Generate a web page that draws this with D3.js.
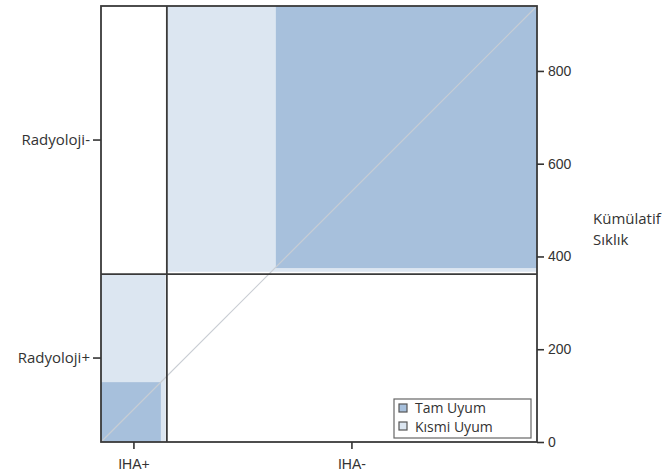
<!DOCTYPE html>
<html>
<head>
<meta charset="utf-8">
<script src="https://cdn.jsdelivr.net/npm/d3@7"></script>
<style>
  body { margin: 0; background: #fff; }
  svg { display: block; }
</style>
</head>
<body>
<div id="chart"></div>
<script>
// IHA vs Radyoloji agreement chart
const N = 940
const rowLabels = ["Radyoloji+", "Radyoloji-"]
const colLabels = ["IHA+", "IHA-"]
const rowTotals = [362, 578]
const colTotals = [142, 798]
// rectangles as [x0, x1, y0, y1] in cumulative frequency
const kismiUyum = [[0, 139, 0, 362], [142, 940, 367, 940]]
const tamUyum = [[0, 129, 0, 129], [377, 940, 375, 940]]
const yTicks = [0, 200, 400, 600, 800]
const legendItems = ["Tam Uyum", "Kısmi Uyum"]

const width = 663, height = 472
const margin = {left: 101, right: 537, top: 6, bottom: 442}
const labelFont = "'Open Sans', sans-serif"

const svg = d3.select("#chart").append("svg")
  .attr("width", width)
  .attr("height", height)

const x = d3.scaleLinear().domain([0, N]).range([margin.left, margin.right])
const y = d3.scaleLinear().domain([0, N]).range([margin.bottom, margin.top])

const color = d3.scaleOrdinal()
  .domain(legendItems)
  .range(["#a7c0dc", "#dce6f1"])

// partial agreement (light)
svg.selectAll("rect.kismi")
  .data(kismiUyum)
  .enter()
  .append("rect")
    .attr("class", "kismi")
    .attr("x", d => x(d[0]))
    .attr("width", d => x(d[1]) - x(d[0]))
    .attr("y", d => y(d[3]))
    .attr("height", d => y(d[2]) - y(d[3]))
    .style("fill", color("Kısmi Uyum"))

// full agreement (dark)
svg.selectAll("rect.tam")
  .data(tamUyum)
  .enter()
  .append("rect")
    .attr("class", "tam")
    .attr("x", d => x(d[0]))
    .attr("width", d => x(d[1]) - x(d[0]))
    .attr("y", d => y(d[3]))
    .attr("height", d => y(d[2]) - y(d[3]))
    .style("fill", color("Tam Uyum"))

// diagonal
svg.append("line")
  .attr("x1", x(0)).attr("y1", y(0))
  .attr("x2", x(N)).attr("y2", y(N))
  .style("stroke", "#c9cdd3")
  .style("stroke-width", 1.2)

// marginal boundaries
const colCum = d3.cumsum(colTotals)
const rowCum = d3.cumsum(rowTotals)
svg.append("line")
  .attr("x1", x(colCum[0])).attr("x2", x(colCum[0]))
  .attr("y1", y(0)).attr("y2", y(N))
  .style("stroke", "#3a3a3a").style("stroke-width", 1.8)
svg.append("line")
  .attr("x1", x(0)).attr("x2", x(N))
  .attr("y1", y(rowCum[0])).attr("y2", y(rowCum[0]))
  .style("stroke", "#3a3a3a").style("stroke-width", 1.8)

// frame
svg.append("rect")
  .attr("x", x(0)).attr("y", y(N))
  .attr("width", x(N) - x(0)).attr("height", y(0) - y(N))
  .style("fill", "none")
  .style("stroke", "#3a3a3a")
  .style("stroke-width", 1.8)

// right axis: cumulative frequency
const yAxis = svg.append("g")
  .attr("transform", "translate(" + margin.right + ",0)")
  .call(d3.axisRight(y).tickValues(yTicks).tickSize(7).tickPadding(4))
yAxis.select(".domain").remove()
yAxis.selectAll("line").style("stroke", "#333").style("stroke-width", 1.6)
yAxis.selectAll("text")
  .style("font-family", "'Liberation Sans Narrow', 'Liberation Sans', sans-serif")
  .style("font-stretch", "condensed")
  .style("font-size", "14px")
  .style("fill", "#333")

// left axis: row categories at midpoints
const rowMid = rowTotals.map((t, i) => rowCum[i] - t / 2)
svg.selectAll("line.rtick")
  .data(rowMid)
  .enter()
  .append("line")
    .attr("x1", margin.left - 8).attr("x2", margin.left)
    .attr("y1", d => y(d)).attr("y2", d => y(d))
    .style("stroke", "#333").style("stroke-width", 1.6)
svg.selectAll("text.rlab")
  .data(rowLabels)
  .enter()
  .append("text")
    .attr("x", margin.left - 11)
    .attr("y", (d, i) => y(rowMid[i]) + 5)
    .attr("text-anchor", "end")
    .style("font-family", labelFont)
    .style("font-size", "15px")
    .style("fill", "#333")
    .text(d => d)

// bottom axis: column categories at midpoints
const colMid = colTotals.map((t, i) => colCum[i] - t / 2)
svg.selectAll("line.ctick")
  .data(colMid)
  .enter()
  .append("line")
    .attr("x1", d => x(d)).attr("x2", d => x(d))
    .attr("y1", margin.bottom).attr("y2", margin.bottom + 7)
    .style("stroke", "#333").style("stroke-width", 1.6)
svg.selectAll("text.clab")
  .data(colLabels)
  .enter()
  .append("text")
    .attr("x", (d, i) => x(colMid[i]))
    .attr("y", margin.bottom + 27)
    .attr("text-anchor", "middle")
    .style("font-family", "'Liberation Sans', sans-serif")
    .style("font-size", "14px")
    .style("fill", "#333")
    .text(d => d)

// axis title
svg.append("text")
  .attr("x", 593)
  .attr("y", 224)
  .style("font-family", labelFont)
  .style("font-size", "15px")
  .style("fill", "#333")
  .selectAll("tspan")
  .data(["Kümülatif", "Sıklık"])
  .enter()
  .append("tspan")
    .attr("x", 593)
    .attr("dy", (d, i) => i === 0 ? 0 : 21)
    .text(d => d)

// legend
const legend = svg.append("g").attr("transform", "translate(394,399)")
legend.append("rect")
  .attr("width", 137).attr("height", 39)
  .style("fill", "#fff")
  .style("stroke", "#666")
  .style("stroke-width", 1.2)
legendItems.forEach(function(d, i) {
  legend.append("rect")
    .attr("x", 5).attr("y", 5 + i * 18)
    .attr("width", 8).attr("height", 8)
    .style("fill", color(d))
    .style("stroke", "#555")
    .style("stroke-width", 1.2)
  legend.append("text")
    .attr("x", 21).attr("y", 14 + i * 19)
    .style("font-family", labelFont)
    .style("font-size", "14px")
    .style("fill", "#333")
    .text(d)
})
</script>
</body>
</html>
